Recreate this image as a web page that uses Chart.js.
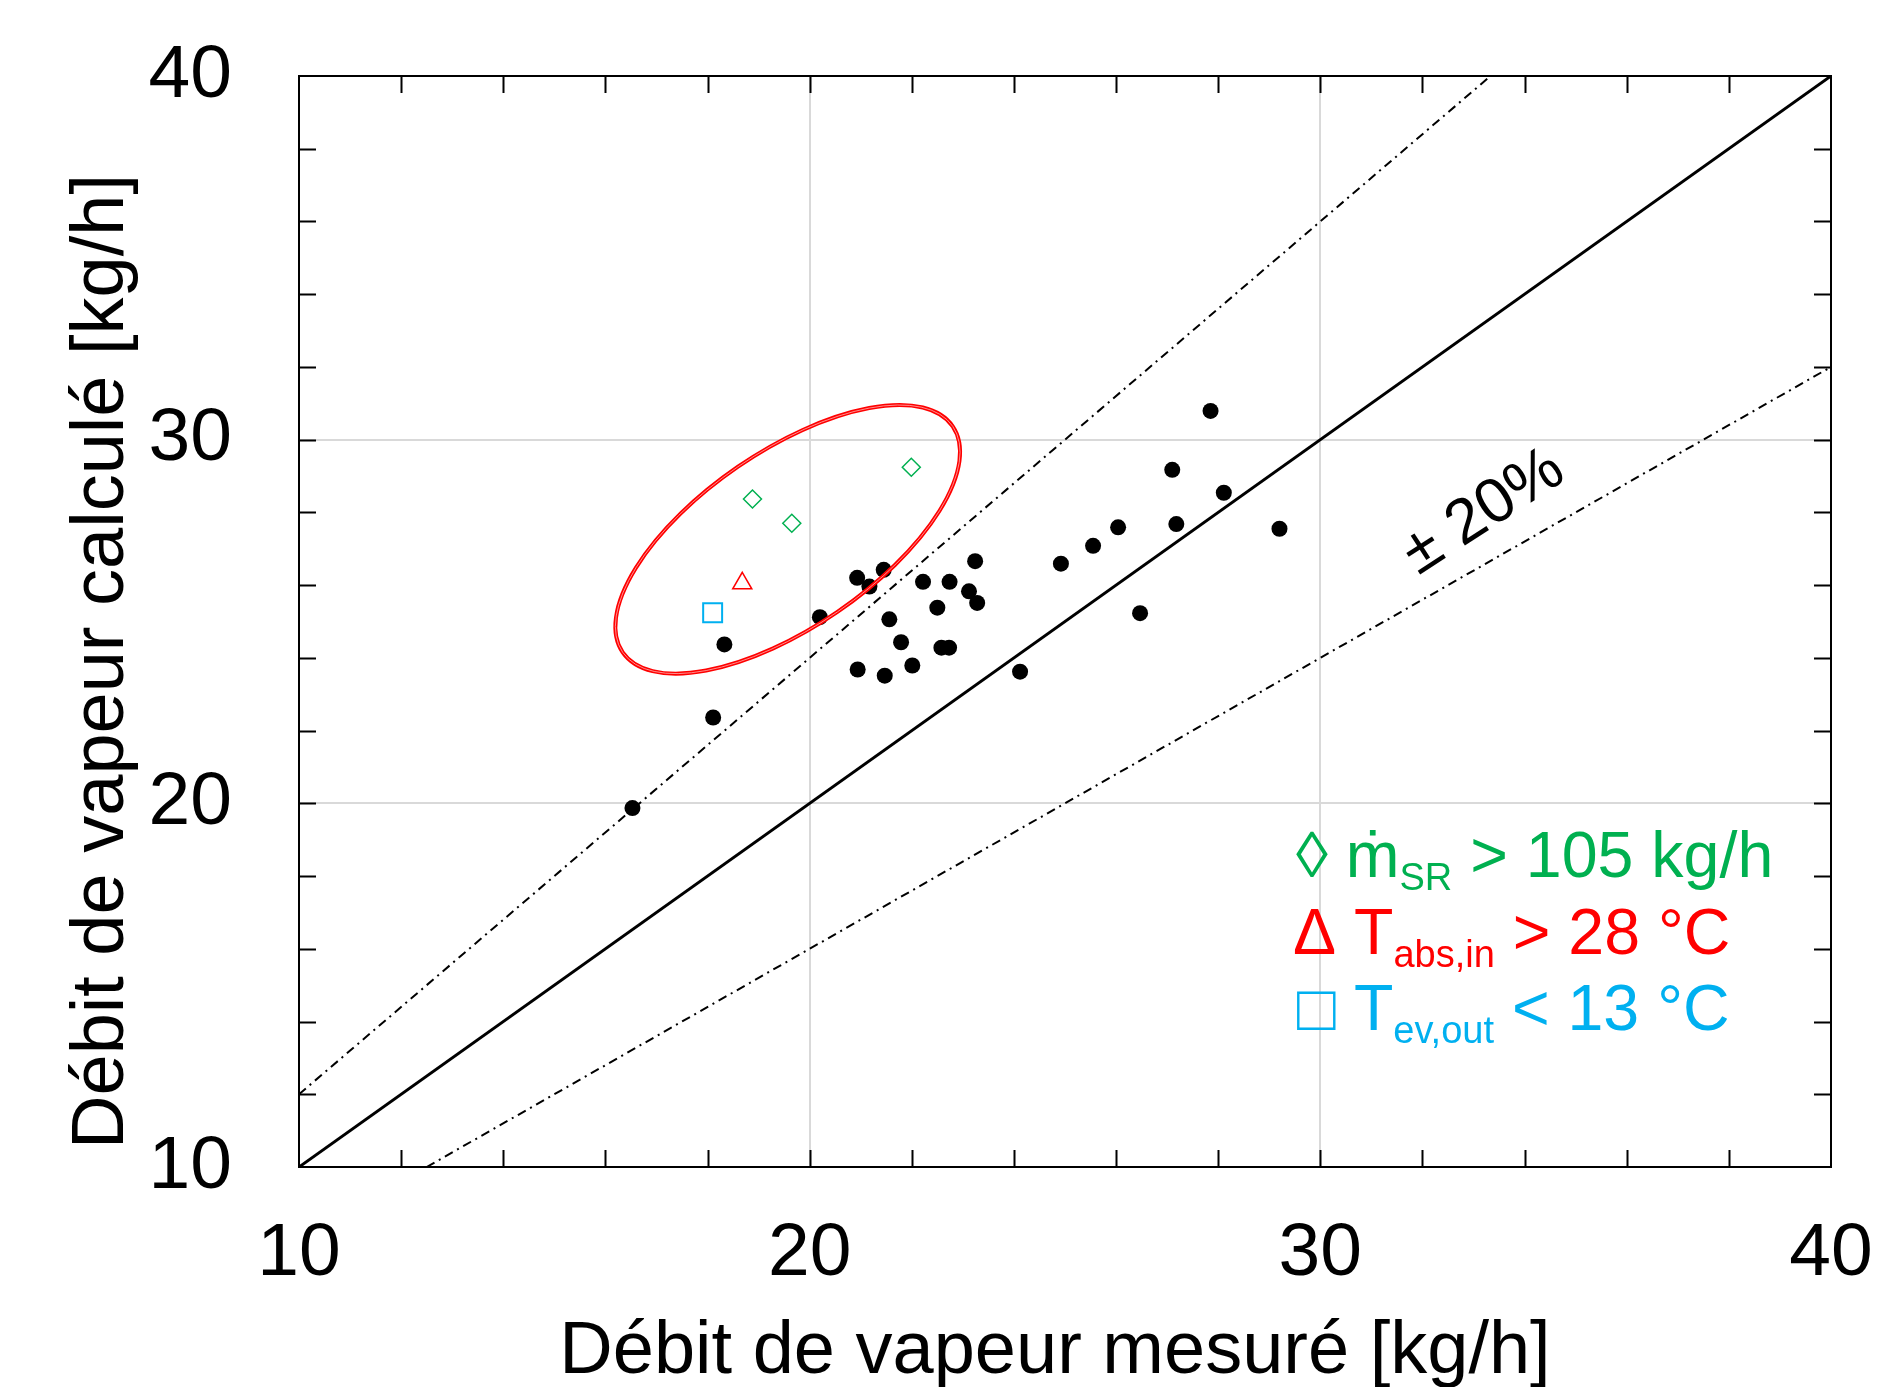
<!DOCTYPE html>
<html><head><meta charset="utf-8">
<script src="https://cdn.jsdelivr.net/npm/chart.js@4.4.1/dist/chart.umd.min.js"></script>
<style>html,body{margin:0;padding:0;background:#fff;}</style>
</head><body>
<canvas id="c" width="1888" height="1387"></canvas>
<script>
// ---- data ----
const axisMin = 10, axisMax = 40, majorStep = 10, minorStep = 2;
const xTitle = 'Débit de vapeur mesuré [kg/h]';
const yTitle = 'Débit de vapeur calculé [kg/h]';

const blackX = [16.53, 18.11, 18.33, 20.20, 20.93, 21.17, 21.45, 20.94, 21.47, 21.56, 21.79, 22.01, 22.22, 22.50, 22.58, 22.73, 22.74, 23.12, 23.24, 23.28, 24.12, 24.92, 25.55, 26.04, 26.47, 27.10, 27.18, 27.85, 28.11, 29.20];
const blackY = [19.87, 22.36, 24.37, 25.12, 26.20, 25.96, 26.42, 23.68, 23.51, 25.06, 24.43, 23.79, 26.09, 25.38, 24.28, 24.28, 26.09, 25.83, 26.66, 25.51, 23.62, 26.59, 27.08, 27.59, 25.23, 29.17, 27.68, 30.79, 28.54, 27.55];

const greenX = [18.88, 19.65, 21.99];
const greenY = [28.37, 27.70, 29.24];
const redX = [18.68];
const redY = [26.05];
const blueX = [18.10];
const blueY = [25.24];

const diagX = [10, 40];      const diagY = [10, 40];
const upperX = [10, 33.333]; const upperY = [12, 40];
const lowerX = [12.5, 40];   const lowerY = [10, 32];

const ellipseCenter = [19.57, 27.26];
const bandLabel = '± 20%';
const bandLabelPos = [33.2, 28.0];

const legendLines = [
  {color:'#00b050', sym:'◊', main:'ṁ', sub:'SR', rest:' > 105 kg/h'},
  {color:'#ff0000', sym:'Δ', main:'T', sub:'abs,in', rest:' > 28 °C'},
  {color:'#00b0f0', sym:'□', main:'T', sub:'ev,out', rest:' < 13 °C'}
];

// ---- helpers ----
const FONT = "'Liberation Sans', Arial, sans-serif";
const pts = (xs, ys) => xs.map((x, i) => ({x, y: ys[i]}));

const decor = {
  id: 'decor',
  afterDatasetsDraw(chart) {
    const {ctx, chartArea: a, scales: {x, y}} = chart;
    ctx.save();
    // frame
    ctx.strokeStyle = '#000';
    ctx.lineWidth = 2;
    ctx.strokeRect(a.left, a.top, a.right - a.left, a.bottom - a.top);
    // inward minor ticks on all sides
    const tl = 17;
    ctx.beginPath();
    for (let v = axisMin + minorStep; v < axisMax - 1e-9; v += minorStep) {
      const px = Math.round(x.getPixelForValue(v)) + 0.5;
      ctx.moveTo(px, a.bottom); ctx.lineTo(px, a.bottom - tl);
      ctx.moveTo(px, a.top); ctx.lineTo(px, a.top + tl);
      const py = Math.round(y.getPixelForValue(v)) + 0.5;
      ctx.moveTo(a.left, py); ctx.lineTo(a.left + tl, py);
      ctx.moveTo(a.right, py); ctx.lineTo(a.right - tl, py);
    }
    ctx.stroke();

    // highlight ellipse
    const cx = x.getPixelForValue(ellipseCenter[0]);
    const cy = y.getPixelForValue(ellipseCenter[1]);
    const rot = -34.4 * Math.PI / 180;
    ctx.beginPath();
    ctx.ellipse(cx, cy, 200, 88, rot, 0, 2 * Math.PI);
    ctx.strokeStyle = '#ff0000';
    ctx.lineWidth = 4;
    ctx.stroke();
    ctx.beginPath();
    ctx.ellipse(cx, cy, 200, 88, rot, 0, 2 * Math.PI);
    ctx.strokeStyle = '#ffb3b3';
    ctx.lineWidth = 0.8;
    ctx.stroke();

    // ±20% label
    ctx.save();
    ctx.translate(x.getPixelForValue(bandLabelPos[0]), y.getPixelForValue(bandLabelPos[1]));
    ctx.rotate(-33 * Math.PI / 180);
    ctx.fillStyle = '#000';
    ctx.font = '63px ' + FONT;
    ctx.textAlign = 'center';
    ctx.textBaseline = 'middle';
    ctx.fillText(bandLabel, 0, 0);
    ctx.restore();

    // legend
    const big = 64.5, small = 38;
    const lx = [a.left + 997, a.left + 994, a.left + 998];
    legendLines.forEach((l, i) => {
      const base = a.bottom - 290 + i * 76.5;
      let px = lx[i];
      ctx.fillStyle = l.color;
      ctx.textAlign = 'left';
      ctx.textBaseline = 'alphabetic';
      ctx.font = big + 'px ' + FONT;
      const s1 = l.sym + ' ';
      ctx.fillText(s1, px, base); px += ctx.measureText(s1).width;
      ctx.fillText(l.main, px, base); px += ctx.measureText(l.main).width;
      ctx.font = small + 'px ' + FONT;
      ctx.fillText(l.sub, px, base + 13); px += ctx.measureText(l.sub).width;
      ctx.font = big + 'px ' + FONT;
      ctx.fillText(l.rest, px, base);
    });

    ctx.restore();
  },
  afterDraw(chart) {
    const {ctx, chartArea: a} = chart;
    ctx.save();
    ctx.fillStyle = '#000';
    ctx.font = '74px ' + FONT;
    ctx.textAlign = 'center';
    ctx.textBaseline = 'alphabetic';
    ctx.fillText(xTitle, (a.left + a.right) / 2 - 10, 1373);
    ctx.translate(123, (a.top + a.bottom) / 2 + 40);
    ctx.rotate(-Math.PI / 2);
    ctx.fillText(yTitle, 0, 0);
    ctx.restore();
  }
};

const lineDs = (xs, ys, w, dash) => ({
  type: 'scatter', data: pts(xs, ys), showLine: true, borderColor: '#000',
  borderWidth: w, borderDash: dash, pointRadius: 0, fill: false
});

const tickFont = {family: FONT, size: 75, lineHeight: 1.2};
const noPad = s => { s.paddingTop = 0; s.paddingBottom = 0; s.paddingLeft = 0; s.paddingRight = 0; };

new Chart(document.getElementById('c'), {
  type: 'scatter',
  data: {
    datasets: [
      lineDs(diagX, diagY, 3, []),
      lineDs(upperX, upperY, 2, [9, 5, 2, 5]),
      lineDs(lowerX, lowerY, 2, [9, 5, 2, 5]),
      {data: pts(blackX, blackY), pointRadius: 8, pointBackgroundColor: '#000', pointBorderColor: '#000', pointBorderWidth: 0},
      {data: pts(greenX, greenY), pointStyle: 'rectRot', pointRadius: 9, pointBackgroundColor: 'rgba(0,0,0,0)', pointBorderColor: '#00b050', pointBorderWidth: 1.5},
      {data: pts(redX, redY), pointStyle: 'triangle', pointRadius: 11, pointBackgroundColor: 'rgba(0,0,0,0)', pointBorderColor: '#ff0000', pointBorderWidth: 1.5},
      {data: pts(blueX, blueY), pointStyle: 'rect', pointRadius: 13.4, pointBackgroundColor: 'rgba(0,0,0,0)', pointBorderColor: '#00b0f0', pointBorderWidth: 2}
    ]
  },
  options: {
    responsive: false,
    animation: false,
    events: [],
    layout: {padding: {left: 0, top: 76, right: 57, bottom: 0}},
    plugins: {legend: {display: false}, tooltip: {enabled: false}},
    scales: {
      x: {
        type: 'linear', position: 'bottom', min: axisMin, max: axisMax,
        ticks: {stepSize: majorStep, font: tickFont, color: '#000', padding: 42, maxRotation: 0, autoSkip: false},
        grid: {color: '#d9d9d9', lineWidth: 2, drawTicks: false},
        border: {display: false},
        afterFit(s) { s.height = 220; noPad(s); }
      },
      y: {
        type: 'linear', position: 'left', min: axisMin, max: axisMax,
        ticks: {stepSize: majorStep, font: tickFont, color: '#000', padding: 67, autoSkip: false},
        grid: {color: '#d9d9d9', lineWidth: 2, drawTicks: false},
        border: {display: false},
        afterFit(s) { s.width = 299; noPad(s); }
      }
    }
  },
  plugins: [decor]
});
</script>
</body></html>
